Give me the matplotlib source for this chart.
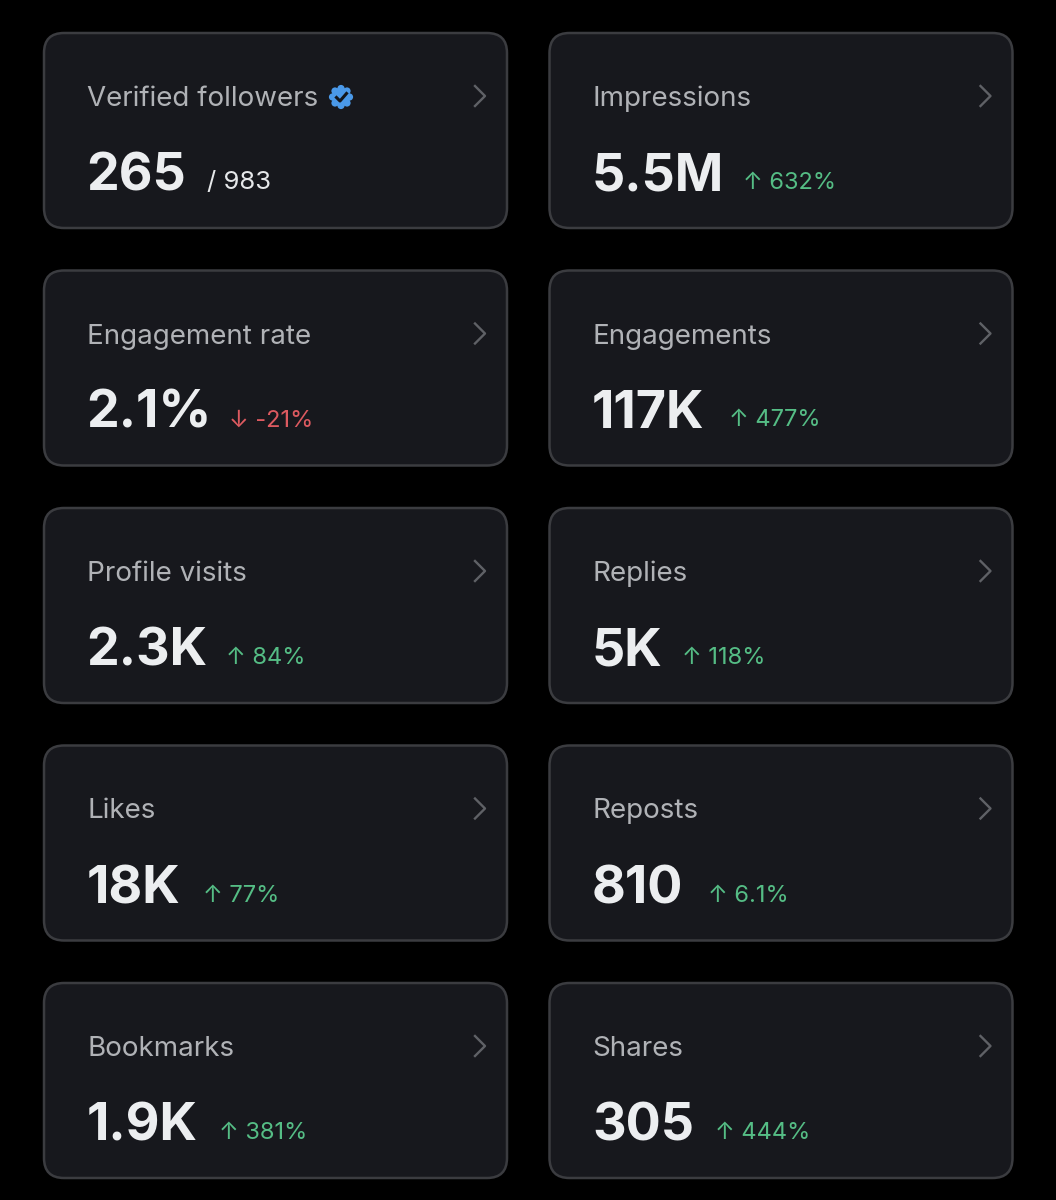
import matplotlib
matplotlib.use('Agg')
import matplotlib.pyplot as plt
import numpy as np
from matplotlib.patches import FancyBboxPatch, Circle

# card contents, left column then right column
labels_left = ['Verified followers', 'Engagement rate', 'Profile visits', 'Likes', 'Bookmarks']
labels_right = ['Impressions', 'Engagements', 'Replies', 'Reposts', 'Shares']
values_left = ['265', '2.1%', '2.3K', '18K', '1.9K']
values_right = ['5.5M', '117K', '5K', '810', '305']
changes_left = ['/ 983', '↓ -21%', '↑ 84%', '↑ 77%', '↑ 381%']
changes_right = ['↑ 632%', '↑ 477%', '↑ 118%', '↑ 6.1%', '↑ 444%']
change_x_left = [207, 229, 226, 203, 219]
change_x_right = [743, 729, 682, 708, 715]

plt.rcParams['font.family'] = ['Inter', 'DejaVu Sans']

fig = plt.figure(figsize=(10.56, 12), dpi=100, facecolor='black')
ax = fig.add_axes([0, 0, 1, 1])
ax.set_xlim(0, 1056)
ax.set_ylim(1200, 0)
ax.axis('off')

CARD = '#17181d'
EDGE = '#3b3c40'
LABEL = '#b0b2b6'
VALUE = '#eceef0'
GREEN = '#55bd85'
RED = '#dd5a60'
WHITE = '#e6e8ea'
BLUE = '#4a99e9'


def draw_card(x, y, label, value, change, cx):
    ax.add_patch(FancyBboxPatch((x + 20, y + 20), 463 - 40, 195 - 40,
                                boxstyle='round,pad=20,rounding_size=20',
                                fc=CARD, ec=EDGE, lw=1.8))
    ax.text(x + 43, y + 66, label, color=LABEL, fontsize=20, va='center', ha='left')
    ax.text(x + 42.5, y + 144, value, color=VALUE, fontsize=37.5, fontweight='bold', va='center', ha='left')
    col = WHITE
    size = 17
    if change.startswith('↑'):
        col = GREEN
    elif change.startswith('↓'):
        col = RED
    else:
        size = 18.5
    ax.text(cx, y + 150, change, color=col, fontsize=size, va='center', ha='left')
    # chevron
    ax.plot([x + 431, x + 441, x + 431], [y + 53, y + 63, y + 73], color='#5f6166', lw=1.7)


for i in range(5):
    y = 33 + i * 237.5
    draw_card(44, y, labels_left[i], values_left[i], changes_left[i], change_x_left[i])
    draw_card(549.5, y, labels_right[i], values_right[i], changes_right[i], change_x_right[i])

# verified badge, scalloped edge from small circles round a big one
ax.add_patch(Circle((341, 97), 9.5, fc=BLUE, ec='none'))
for a in np.arange(0, 2 * np.pi, np.pi / 4):
    ax.add_patch(Circle((341 + 8.5 * np.cos(a), 97 + 8.5 * np.sin(a)), 3.6, fc=BLUE, ec='none'))
ax.plot([336.5, 340, 346.5], [97.5, 101, 93.5], color='#14161b', lw=2.2)

fig.savefig('out.png', dpi=100, facecolor='black')
